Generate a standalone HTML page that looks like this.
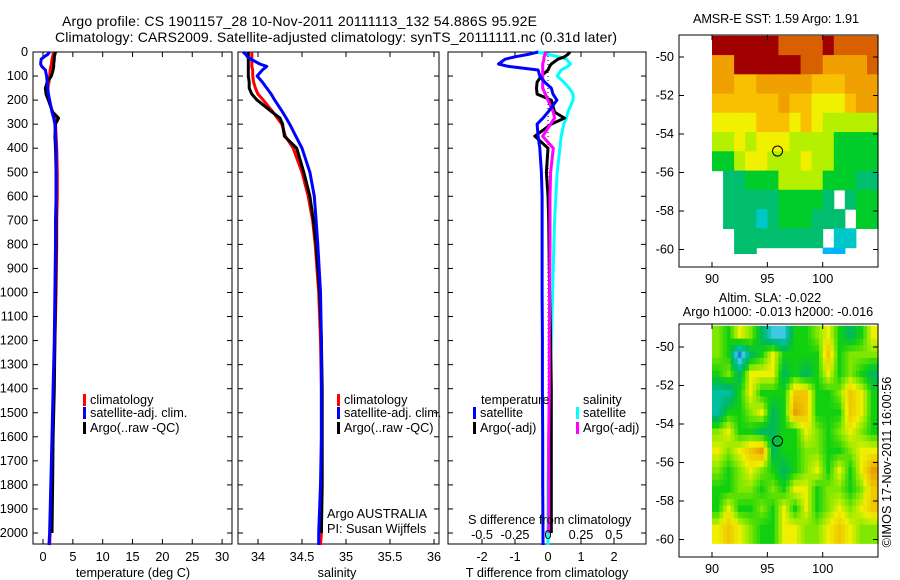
<!DOCTYPE html>
<html><head><meta charset="utf-8"><style>
html,body{margin:0;padding:0;background:#fff;width:900px;height:580px;overflow:hidden}
svg{display:block;font-family:"Liberation Sans",sans-serif;font-size:12.7px}
</style></head><body>
<svg id="fig" width="900" height="580" viewBox="0 0 900 580" xmlns="http://www.w3.org/2000/svg">
<text x="62" y="26" font-size="14" textLength="475" lengthAdjust="spacing">Argo profile: CS 1901157_28 10-Nov-2011 20111113_132 54.886S 95.92E</text>
<text x="55" y="42" font-size="14" textLength="562" lengthAdjust="spacing">Climatology: CARS2009. Satellite-adjusted climatology: synTS_20111111.nc (0.31d later)</text>
<text x="693" y="23" textLength="166" lengthAdjust="spacing">AMSR-E SST: 1.59 Argo: 1.91</text>
<text x="770" y="302" text-anchor="middle">Altim. SLA: -0.022</text>
<text x="778" y="316" text-anchor="middle">Argo h1000: -0.013 h2000: -0.016</text>
<text transform="translate(891,462) rotate(-90)" text-anchor="middle">©IMOS 17-Nov-2011 16:00:56</text>
</svg>
<script>
// ---- data ----
const depths = [0,10,20,30,50,60,75,100,125,150,175,200,250,275,300,350,400,500,600,700,800,1000,1200,1400,1600,1800,2000,2050];
const tempClim = [1.7,1.7,1.6,1.5,1.4,1.3,1.2,1.1,1.0,0.8,0.7,1.0,1.6,2.0,2.1,2.2,2.3,2.4,2.4,2.3,2.3,2.2,2.0,1.8,1.6,1.4,1.2,1.1];
const tempSat = [1.1,0.8,0.2,-0.3,-0.4,-0.2,0.4,0.6,0.7,0.8,0.9,1.1,1.5,1.8,2.0,2.1,2.2,2.2,2.2,2.1,2.1,2.0,1.9,1.7,1.5,1.3,1.1,1.0];
const tempArgo = [2.1,2.0,1.9,1.9,1.8,1.8,1.7,1.4,0.7,0.4,0.5,0.9,1.6,2.6,2.1,2.0,2.1,2.2,2.2,2.2,2.2,2.1,2.0,1.9,1.7,1.6,1.5,null];
const salClim = [33.93,33.93,33.93,33.93,33.93,33.93,33.94,33.94,33.95,33.97,34.0,34.06,34.17,34.22,34.27,34.31,34.40,34.50,34.57,34.62,34.65,34.69,34.71,34.72,34.72,34.72,34.72,34.71];
const salSat = [33.83,33.86,33.88,33.92,34.02,34.10,34.05,33.99,34.05,34.10,34.15,34.19,34.28,34.32,34.36,34.43,34.50,34.59,34.64,34.66,34.68,34.71,34.72,34.72,34.72,34.71,34.69,34.69];
const salArgo = [33.89,33.89,33.89,33.89,33.89,33.89,33.89,33.89,33.90,33.90,33.93,33.99,34.16,34.25,34.28,34.30,34.44,34.52,34.59,34.63,34.66,34.70,34.72,34.73,34.73,34.73,34.72,null];
const dTSat = [-0.3,-0.6,-1.0,-1.3,-1.5,-1.2,-0.3,-0.25,-0.1,0.1,0.15,0.27,0.0,-0.15,-0.33,-0.3,-0.25,-0.2,-0.18,-0.18,-0.18,-0.18,-0.17,-0.17,-0.16,-0.16,-0.15,-0.15];
const dTArgo = [0.67,0.6,0.5,0.3,0.1,0.05,0.0,-0.2,-0.33,-0.35,-0.33,0.1,0.2,0.5,0.1,-0.4,0.0,-0.05,0.0,0.02,0.03,0.05,0.08,0.1,0.1,0.1,0.1,null];
const dSSat = [-0.08,0.0,0.08,0.14,0.17,0.15,0.1,0.07,0.12,0.16,0.19,0.19,0.15,0.14,0.12,0.1,0.09,0.07,0.06,0.05,0.045,0.035,0.025,0.015,0.005,0.0,0.0,0.0];
const dSArgo = [-0.02,-0.02,-0.03,-0.03,-0.04,-0.04,-0.04,-0.04,-0.04,-0.04,-0.02,0.0,0.04,0.05,0.02,-0.04,0.04,0.02,0.015,0.015,0.015,0.012,0.01,0.01,0.005,0.005,0.005,null];
const depthTicks = [0,100,200,300,400,500,600,700,800,900,1000,1100,1200,1300,1400,1500,1600,1700,1800,1900,2000];
const tempTicks = [0,5,10,15,20,25,30];
const salTicks = ["34","34.5","35","35.5","36"];
const dTTicks = ["-2","-1","0","1","2"];
const dSTicks = ["-0.5","-0.25","0","0.25","0.5"];
const latTicks = [-50,-52,-54,-56,-58,-60];
const lonTicks = [90,95,100];
// SST grid rows (lat -49..-60), cols lon 90..104, 0-9 colour index, '.'=no data
const sstRows = ["999999888898888","779999998877778","776677777666777","666666766555677","555566656544444","445455544443333","334554445443333",".22333444433322",".2222233332.233",".22212333222.33","..22222222.11..","..22......00..."];
const slaRows = ["546531144564346","540346444474555","453666343464543","224644477445764","244563487444764","564433446545654","656783445544566","545654345646468","445545466455457","464454646456567","676544665567655","676544665567655"];
const argoLon = [95.92];
const argoLat = [-54.886];

// ---- helpers ----
const NS="http://www.w3.org/2000/svg";
const svg=document.getElementById('fig');
function mk(tag,attrs,parent){const e=document.createElementNS(NS,tag);for(const k in attrs)e.setAttribute(k,attrs[k]);(parent||svg).appendChild(e);return e;}
const top0=52, bot0=544;
const yD = d => top0 + d*0.2405;

function panel(name,x0,x1,xs,ticks,tickLabels,title,titleX,showY){
  const g=mk('g',{});
  
  
  const fr=mk('rect',{x:x0,y:top0,width:x1-x0,height:bot0-top0,fill:'none',stroke:'#000','stroke-width':1},g);
  
  
  depthTicks.forEach(d=>{
    mk('line',{x1:x0,x2:x0+5,y1:yD(d),y2:yD(d),stroke:'#000'},g);
    mk('line',{x1:x1-5,x2:x1,y1:yD(d),y2:yD(d),stroke:'#000'},g);
    if(showY){const t=mk('text',{x:28,y:yD(d)+4,'text-anchor':'end'},g);t.textContent=d;
      
      }
  });
  ticks.forEach((v,i)=>{const x=xs(+v);
    mk('line',{x1:x,x2:x,y1:top0,y2:top0+5,stroke:'#000'},g);
    mk('line',{x1:x,x2:x,y1:bot0-5,y2:bot0,stroke:'#000'},g);
    const t=mk('text',{x:x,y:561,'text-anchor':'middle'},g);t.textContent=tickLabels[i];
    
    
  });
  const tt=mk('text',{x:titleX,y:577,'text-anchor':'middle'},g);tt.textContent=title;
  
  
  return g;
}
function series(g,vals,xs,color,name){
  let d='';let pen=false;
  vals.forEach((v,i)=>{if(v===null){pen=false;return;}d+=(pen?'L':'M')+xs(v).toFixed(1)+' '+yD(depths[i]).toFixed(1);pen=true;});
  const p=mk('path',{d:d,fill:'none',stroke:color,'stroke-width':3,'stroke-linejoin':'round'},g);
  
  
}
function legend(g,x,y,color,label){
  mk('rect',{x:x,y:y-10,width:3,height:12,fill:color},g);
  const t=mk('text',{x:x+7,y:y},g);t.textContent=label;
  
  
}

// Panel 1 temperature
const xT=v=>43+v*5.97;
const p1=panel('temperature-panel',33,232,xT,tempTicks,tempTicks,'temperature (deg C)',133,true);
series(p1,tempClim,xT,'#f00','temp-climatology-line');
series(p1,tempArgo,xT,'#000','temp-argo-line');
series(p1,tempSat,xT,'#00f','temp-satellite-line');
legend(p1,83,404,'#f00','climatology');
legend(p1,83,417,'#00f','satellite-adj. clim.');
legend(p1,83,432,'#000','Argo(..raw -QC)');

// Panel 2 salinity
const xS=v=>258+(v-34)*88;
const p2=panel('salinity-panel',238,439,xS,salTicks,salTicks,'salinity',337,false);
series(p2,salClim,xS,'#f00','sal-climatology-line');
series(p2,salArgo,xS,'#000','sal-argo-line');
series(p2,salSat,xS,'#00f','sal-satellite-line');
legend(p2,337,404,'#f00','climatology');
legend(p2,337,417,'#00f','satellite-adj. clim.');
legend(p2,337,432,'#000','Argo(..raw -QC)');
[['Argo AUSTRALIA',518],['PI: Susan Wijffels',533]].forEach(a=>{const t=mk('text',{x:327,y:a[1]},p2);t.textContent=a[0];
  
  });

// Panel 3 differences
const xdT=v=>548+v*33;
const xdS=v=>548+v*132;
const p3=panel('difference-panel',448,646,xdT,dTTicks,dTTicks,'T difference from climatology',547,false);
mk('line',{x1:548,x2:548,y1:top0,y2:bot0,stroke:'#000','stroke-dasharray':'1,3'},p3);
series(p3,dSSat,xdS,'#0ff','sal-diff-satellite-line');
series(p3,dTArgo,xdT,'#000','temp-diff-argo-line');
series(p3,dSArgo,xdS,'#f0f','sal-diff-argo-line');
series(p3,dTSat,xdT,'#00f','temp-diff-satellite-line');
{const t=mk('text',{x:481,y:404},p3);t.textContent='temperature';
 
 }
{const t=mk('text',{x:583,y:404},p3);t.textContent='salinity';
 
 }
legend(p3,473,417,'#00f','satellite');
legend(p3,473,432,'#000','Argo(-adj)');
legend(p3,576,417,'#0ff','satellite');
legend(p3,576,432,'#f0f','Argo(-adj)');
{const t=mk('text',{x:468,y:524},p3);t.textContent='S difference from climatology';
 
 }
dSTicks.forEach(v=>{const t=mk('text',{x:xdS(+v),y:539,'text-anchor':'middle'},p3);t.textContent=v;
  
  });

// Maps
const sstCols=['#00b4ff','#00c8c8','#00be6e','#00cc2a','#b4f000','#f0f000','#f8c000','#f0a000','#d86000','#a00000'];
const slaCols=['#2080e0','#40c8e0','#00c0a0','#00b860','#10d010','#80e800','#eef000','#f0c800','#e8a000'];
function hex(c){return [parseInt(c.slice(1,3),16),parseInt(c.slice(3,5),16),parseInt(c.slice(5,7),16)];}
function mixCol(cols,v){v=Math.max(0,Math.min(cols.length-1,v));const i=Math.min(cols.length-2,Math.floor(v));const f=v-i;
  const a=hex(cols[i]),b=hex(cols[i+1]);return 'rgb('+a.map((x,k)=>Math.round(x+(b[k]-x)*f)).join(',')+')';}
function map(name,frameTop,frameBot,lat50,rows,cols,smooth){
  const g=mk('g',{});
  
  
  const ppl=19.25;
  const yLat=l=>lat50+(-50-l)*ppl;
  const xLon=l=>712+(l-90)*11.07;
  if(!smooth){
    rows.forEach((r,ri)=>{
      for(let ci=0;ci<r.length;ci++){const c=r[ci];if(c==='.')continue;
        const la=-48.9-ri; const la2=Math.max(la-1,-60.2);
        const cell=mk('rect',{x:xLon(90+ci).toFixed(1),y:yLat(la).toFixed(1),width:11.6,height:(yLat(la2)-yLat(la)+0.6).toFixed(1),fill:cols[+c]},g);
        
        
      }
    });
  } else {
    const nr=rows.length,nc=rows[0].length,sub=3;
    const val=(r,c)=>+rows[Math.max(0,Math.min(nr-1,r))][Math.max(0,Math.min(nc-1,c))];
    for(let i=0;i<nr*sub;i++){
      const la=-48.9-i/sub; if(la<=-60.2)break; const la2=Math.max(la-1/sub,-60.2);
      for(let j=0;j<nc*sub;j++){
        const fr=(i+0.5)/sub-0.5, fc=(j+0.5)/sub-0.5;
        const r0=Math.floor(fr),c0=Math.floor(fc),a=fr-r0,b=fc-c0;
        const v=(1-a)*((1-b)*val(r0,c0)+b*val(r0,c0+1))+a*((1-b)*val(r0+1,c0)+b*val(r0+1,c0+1));
        const cell=mk('rect',{x:xLon(90+j/sub).toFixed(1),y:yLat(la).toFixed(1),width:4.3,height:(yLat(la2)-yLat(la)+0.5).toFixed(1),fill:mixCol(cols,v)},g);
        
        
      }
    }
  }
  const fr=mk('rect',{x:679,y:frameTop,width:199,height:frameBot-frameTop,fill:'none',stroke:'#000'},g);
  
  
  latTicks.forEach(l=>{const y=yLat(l);
    mk('line',{x1:679,x2:684,y1:y,y2:y,stroke:'#000'},g);mk('line',{x1:873,x2:878,y1:y,y2:y,stroke:'#000'},g);
    const t=mk('text',{x:674,y:y+4,'text-anchor':'end'},g);t.textContent=l;
    
    });
  lonTicks.forEach(l=>{const x=xLon(l);
    mk('line',{x1:x,x2:x,y1:frameBot-5,y2:frameBot,stroke:'#000'},g);mk('line',{x1:x,x2:x,y1:frameTop,y2:frameTop+5,stroke:'#000'},g);
    const t=mk('text',{x:x,y:frameBot+16,'text-anchor':'middle'},g);t.textContent=l;
    
    });
  const c=mk('circle',{cx:xLon(argoLon[0]),cy:yLat(argoLat[0]),r:5,fill:'none',stroke:'#000','stroke-width':1},g);
  
  
}
map('sst-map',35,267,57,sstRows,sstCols,false);
map('sla-map',324,557,347,slaRows,slaCols,true);
</script>
</body></html>
